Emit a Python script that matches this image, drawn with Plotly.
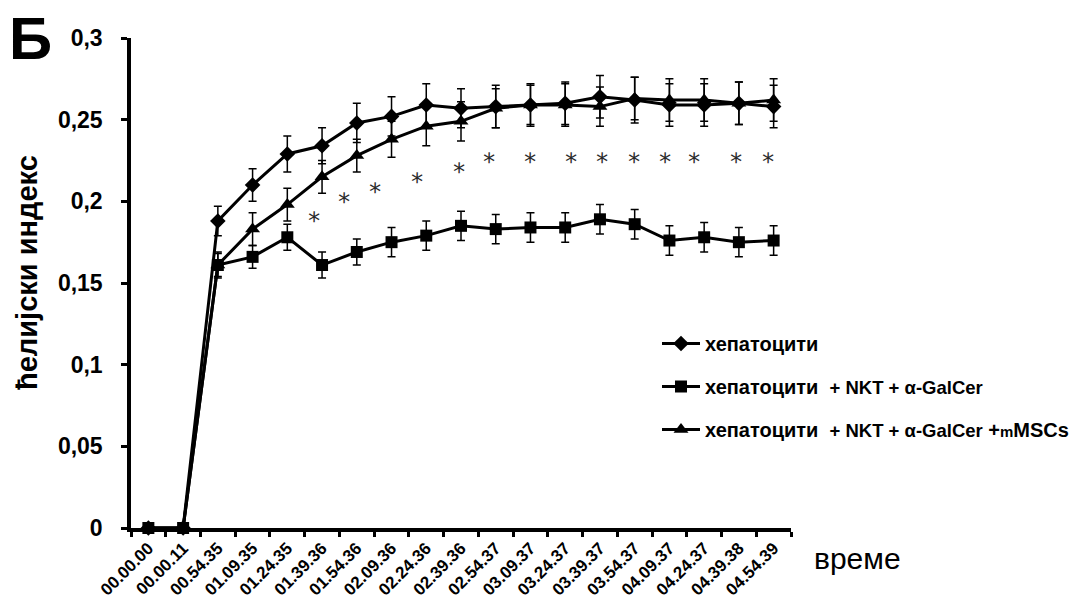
import plotly.graph_objects as go

# ---------------- data ----------------
categories = ["00.00.00", "00.00.11", "00.54.35", "01.09.35", "01.24.35", "01.39.36",
              "01.54.36", "02.09.36", "02.24.36", "02.39.36", "02.54.37", "03.09.37",
              "03.24.37", "03.39.37", "03.54.37", "04.09.37", "04.24.37", "04.39.38",
              "04.54.39"]

hep = [0, 0, 0.188, 0.210, 0.229, 0.234, 0.248, 0.252, 0.259, 0.257, 0.258, 0.259,
       0.260, 0.264, 0.262, 0.259, 0.259, 0.260, 0.258]
hep_err = [0, 0, 0.009, 0.010, 0.011, 0.011, 0.012, 0.012, 0.013, 0.012, 0.013, 0.013,
           0.013, 0.013, 0.014, 0.013, 0.013, 0.013, 0.013]

nkt = [0, 0, 0.161, 0.166, 0.178, 0.161, 0.169, 0.175, 0.179, 0.185, 0.183, 0.184,
       0.184, 0.189, 0.186, 0.176, 0.178, 0.175, 0.176]
nkt_err = [0, 0, 0.007, 0.007, 0.008, 0.008, 0.008, 0.009, 0.009, 0.009, 0.009, 0.009,
           0.009, 0.009, 0.009, 0.009, 0.009, 0.009, 0.009]

msc = [0, 0, 0.161, 0.183, 0.198, 0.215, 0.228, 0.238, 0.246, 0.249, 0.257, 0.259,
       0.259, 0.258, 0.263, 0.262, 0.262, 0.260, 0.262]
msc_err = [0, 0, 0.008, 0.010, 0.010, 0.010, 0.010, 0.011, 0.012, 0.012, 0.012, 0.012,
           0.013, 0.012, 0.013, 0.013, 0.013, 0.013, 0.013]

# significance asterisks (category index position, y value)
star_x = [4.77, 5.63, 6.52, 7.73, 8.94, 9.80, 11.0, 12.18, 13.07, 13.97, 14.86, 15.72,
          16.93, 17.84]
star_y = [0.1885, 0.2002, 0.2063, 0.2124, 0.2185, 0.2247, 0.2247, 0.2247, 0.2247, 0.2247,
          0.2247, 0.2247, 0.2247, 0.2247]

y_ticks = [0, 0.05, 0.1, 0.15, 0.2, 0.25, 0.3]
y_ticktext = ["0", "0,05", "0,1", "0,15", "0,2", "0,25", "0,3"]

leg_hep = "хепатоцити"
leg_nkt = ("хепатоцити&nbsp;&nbsp;<span style='font-size:18.5px'>+ NKT + α-GalCer"
           "</span>")
leg_msc = ("хепатоцити&nbsp;&nbsp;<span style='font-size:18.5px'>+ NKT + α-GalCer</span>"
           "&nbsp;+<span style='font-size:15px'>m</span>MSCs")

# ---------------- figure ----------------
OFF = 8                      # page body margin
W, H = 1091 - OFF, 601 - OFF
L, PW = 123, 660             # plot left / width (figure px)
T, PH = 30, 490              # plot top / height (figure px)
R = W - L - PW
B = H - T - PH
FONT = "Arial, Liberation Sans, sans-serif"


def px_x(px):
    return (px - OFF - L) / PW


def px_y(py):
    return (T + PH - (py - OFF)) / PH


def series(name, y, err, symbol, size, rank):
    return go.Scatter(
        x=categories, y=y, name=name, mode="lines+markers",
        line=dict(color="black", width=3),
        marker=dict(symbol=symbol, size=size, color="black"),
        error_y=dict(type="data", array=[e if e > 0 else None for e in err],
                     color="black", thickness=1.5, width=4),
        cliponaxis=False, legendgroup=name, legendrank=rank,
    )


fig = go.Figure()
fig.add_trace(series(leg_hep, hep, hep_err, "diamond", 12, 1))
fig.add_trace(series(leg_msc, msc, msc_err, "triangle-up", 13, 3))
fig.add_trace(series(leg_nkt, nkt, nkt_err, "square", 12, 2))

for sx, sy in zip(star_x, star_y):
    fig.add_annotation(x=sx, y=sy, xref="x", yref="y", text="*", showarrow=False,
                       xanchor="center", yanchor="middle", yshift=-1, textangle=0.5,
                       font=dict(family="DejaVu Sans", size=24, color="#2a2a2a"))

fig.add_annotation(x=px_x(30), y=px_y(38), xref="paper", yref="paper", text="Б",
                   showarrow=False, xanchor="center", yanchor="middle",
                   font=dict(family=FONT, size=60, color="black", weight="bold"))
fig.add_annotation(x=px_x(27), y=px_y(273), xref="paper", yref="paper",
                   text="ћелијски индекс", textangle=-90, showarrow=False,
                   xanchor="center", yanchor="middle",
                   font=dict(family=FONT, size=29, color="black", weight="bold"))
fig.add_annotation(x=px_x(857), y=px_y(558), xref="paper", yref="paper",
                   text="време", showarrow=False, xanchor="center", yanchor="middle",
                   font=dict(family=FONT, size=30, color="black"))

fig.update_layout(
    width=W, height=H,
    margin=dict(l=L, r=R, t=T, b=B, pad=0, autoexpand=False),
    paper_bgcolor="white", plot_bgcolor="white",
    font=dict(family=FONT, color="black"),
    showlegend=True,
    legend=dict(x=px_x(657), y=px_y(324), xanchor="left", yanchor="top",
                bgcolor="rgba(0,0,0,0)", tracegroupgap=14, itemwidth=38,
                font=dict(family=FONT, size=20, color="black", weight="bold"),
                traceorder="grouped"),
    xaxis=dict(type="category", showline=True, linecolor="black", linewidth=3.5,
               ticks="outside", tickson="boundaries", ticklen=5, tickwidth=3,
               tickcolor="black", tickangle=-45, showgrid=False, zeroline=False,
               automargin=False,
               tickfont=dict(family=FONT, size=17, color="black", weight="bold"),
               range=[-0.5, 18.5]),
    yaxis=dict(range=[0, 0.3], showline=True, linecolor="black", linewidth=3.5,
               ticks="outside", ticklen=6, tickwidth=3, tickcolor="black",
               tickvals=y_ticks, ticktext=y_ticktext, showgrid=False, zeroline=False,
               ticklabelstandoff=14, automargin=False,
               tickfont=dict(family=FONT, size=23, color="black", weight="bold")),
)

fig.write_html("out.html")
